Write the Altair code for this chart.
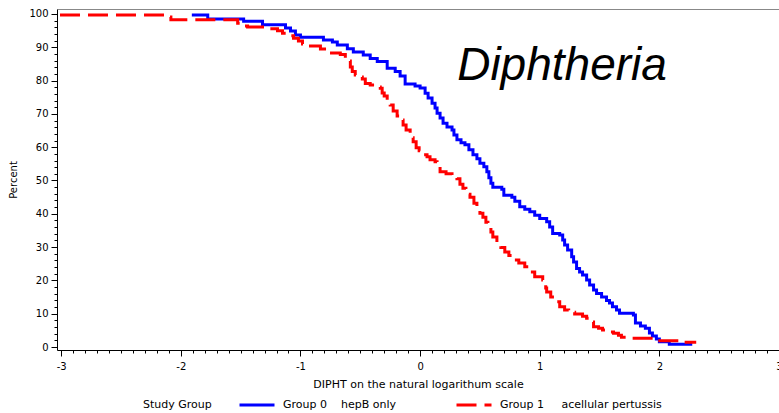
import altair as alt
import pandas as pd

G0 = "Group 0\u00a0\u00a0\u00a0\u00a0hepB only"
G1 = "Group 1\u00a0\u00a0\u00a0\u00a0\u00a0acellular pertussis"

# Group 0 (hepB only): x where the curve steps, percent after the step
blue_x = [-1.908, -1.775, -1.475, -1.317, -1.125, -1.083, -1.042, -1.0, -0.808, -0.733,
          -0.692, -0.608, -0.558, -0.475, -0.417, -0.358, -0.275, -0.208, -0.167, -0.125,
          -0.042, 0.0, 0.042, 0.067, 0.1, 0.125, 0.142, 0.167, 0.192, 0.225,
          0.267, 0.283, 0.308, 0.342, 0.375, 0.408, 0.442, 0.475, 0.5, 0.533,
          0.558, 0.575, 0.592, 0.608, 0.683, 0.7, 0.767, 0.792, 0.833, 0.875,
          0.917, 0.958, 1.0, 1.058, 1.083, 1.108, 1.167, 1.192, 1.208, 1.233,
          1.267, 1.283, 1.308, 1.333, 1.358, 1.392, 1.417, 1.45, 1.475, 1.517,
          1.558, 1.583, 1.608, 1.642, 1.667, 1.783, 1.8, 1.842, 1.883, 1.917,
          1.942, 1.975, 2.0, 2.083, 2.275]
blue_y = [99.7, 98.5, 97.8, 96.8, 95.8, 94.9, 93.7, 93.0, 92.2, 91.6,
          90.7, 89.6, 88.6, 87.7, 86.6, 85.7, 83.7, 82.7, 81.4, 79.0,
          78.4, 77.8, 76.2, 74.8, 73.2, 71.8, 70.2, 68.8, 67.2, 66.1,
          65.2, 63.7, 62.2, 61.3, 60.7, 59.2, 57.7, 56.5, 55.2, 54.1,
          52.6, 50.8, 49.2, 48.0, 47.4, 45.6, 45.0, 43.8, 42.1, 41.4,
          40.6, 39.6, 38.6, 37.6, 36.0, 34.1, 33.6, 32.1, 30.6, 29.1,
          27.1, 25.5, 23.6, 22.5, 21.6, 20.1, 18.6, 17.1, 16.1, 15.0,
          14.0, 13.2, 12.1, 11.1, 10.1, 9.6, 7.2, 6.3, 5.6, 4.2,
          3.3, 2.4, 1.6, 0.8, 0.8]

# Group 1 (acellular pertussis)
red_x = [-3.01, -2.108, -2.083, -1.525, -1.483, -1.442, -1.283, -1.192, -1.15, -1.108,
         -1.058, -1.017, -0.983, -0.933, -0.833, -0.775, -0.667, -0.625, -0.608, -0.583,
         -0.567, -0.542, -0.525, -0.483, -0.458, -0.417, -0.358, -0.333, -0.317, -0.3,
         -0.275, -0.25, -0.225, -0.192, -0.167, -0.142, -0.117, -0.083, -0.058, -0.033,
         -0.008, 0.025, 0.058, 0.083, 0.125, 0.142, 0.167, 0.217, 0.267, 0.308,
         0.333, 0.358, 0.383, 0.417, 0.45, 0.475, 0.5, 0.525, 0.55, 0.567,
         0.592, 0.608, 0.642, 0.675, 0.708, 0.742, 0.775, 0.825, 0.875, 0.917,
         0.958, 1.025, 1.05, 1.058, 1.092, 1.125, 1.167, 1.208, 1.242, 1.292,
         1.358, 1.392, 1.417, 1.45, 1.492, 1.525, 1.567, 1.617, 1.658, 1.683,
         1.725, 1.975, 2.183, 2.308]
red_y = [99.7, 99.1, 98.3, 97.2, 96.4, 96.1, 95.6, 95.0, 94.2, 93.5,
         92.7, 91.9, 91.0, 90.4, 89.5, 88.3, 87.8, 86.7, 85.9, 84.1,
         82.7, 81.7, 81.1, 80.5, 79.1, 78.7, 78.1, 77.7, 76.3, 75.4,
         73.7, 72.7, 70.9, 69.4, 68.2, 66.7, 65.2, 62.8, 61.6, 59.8,
         58.9, 57.7, 57.1, 56.2, 55.6, 54.1, 52.6, 52.0, 51.1, 50.5,
         48.9, 47.7, 45.9, 45.0, 43.2, 41.7, 40.2, 39.0, 37.5, 36.0,
         34.5, 33.0, 31.5, 29.9, 28.5, 27.5, 26.1, 25.2, 24.1, 22.5,
         21.1, 20.1, 17.7, 16.5, 15.0, 13.6, 12.1, 11.1, 10.4, 9.9,
         9.2, 8.6, 7.5, 6.1, 5.6, 5.1, 4.5, 4.1, 3.5, 2.9,
         2.6, 1.9, 1.4, 1.4]

x_ticks = [round(-3 + 0.1 * i, 1) for i in range(61)]
y_ticks = list(range(0, 101, 2))

ann_x = [0.31]
ann_y = [80.2]
ann_text = ["Diphtheria"]

df = pd.concat([
    pd.DataFrame({"x": blue_x, "y": blue_y, "group": G0}),
    pd.DataFrame({"x": red_x, "y": red_y, "group": G1}),
], ignore_index=True)
ann = pd.DataFrame({"x": ann_x, "y": ann_y, "t": ann_text})

FONT = "DejaVu Sans"
xs = alt.Scale(domain=[-3.035, 3.0], nice=False, zero=False)
ys = alt.Scale(domain=[-0.9, 101.5], nice=False, zero=False)

is_int_x = "abs(datum.value - round(datum.value)) < 0.001"
xaxis = alt.Axis(
    values=x_ticks, orient="bottom", grid=False,
    tickSize={"condition": {"test": is_int_x, "value": 6}, "value": 3},
    labelExpr=f"{is_int_x} ? '' + round(datum.value) : ''",
    labelOverlap=False, labelFlush=False,
    labelFont=FONT, labelFontSize=10, labelColor="black", labelPadding=5,
    domainColor="black", tickColor="black", domainWidth=1, tickWidth=1,
    title="DIPHT on the natural logarithum scale", titleFont=FONT, titleFontSize=11,
    titleFontWeight="normal", titleColor="black", titlePadding=7,
)
is_ten = "datum.value % 10 === 0"
yaxis = alt.Axis(
    values=y_ticks, orient="left", grid=False,
    tickSize={"condition": {"test": is_ten, "value": 6}, "value": 3},
    labelExpr=f"{is_ten} ? '' + datum.value : ''",
    labelOverlap=False, labelFlush=False,
    labelFont=FONT, labelFontSize=10, labelColor="black", labelPadding=3,
    domainColor="black", tickColor="black", domainWidth=1, tickWidth=1,
    title="Percent", titleFont=FONT, titleFontSize=10,
    titleFontWeight="normal", titleColor="black", titlePadding=10,
)

legend = alt.Legend(
    orient="none", legendX=86, legendY=377, direction="horizontal",
    title="Study Group", titleOrient="left",
    titleBaseline="line-top", titleLineHeight=12,
    titleFont=FONT, titleFontSize=11,
    titleFontWeight="normal", titleColor="black", titlePadding=26,
    labelFont=FONT, labelFontSize=11, labelColor="black", labelOffset=7, labelLimit=400,
    symbolType="stroke", symbolSize=1225, symbolStrokeWidth=3,
    columnPadding=53, padding=0,
)

lines = alt.Chart(df).mark_line(interpolate="step-after", strokeWidth=3).encode(
    x=alt.X("x:Q", scale=xs, axis=xaxis),
    y=alt.Y("y:Q", scale=ys, axis=yaxis),
    color=alt.Color("group:N", scale=alt.Scale(domain=[G0, G1], range=["#0000ff", "#ff0000"]), legend=legend),
    strokeDash=alt.StrokeDash("group:N", scale=alt.Scale(domain=[G0, G1], range=[[1, 0], [20, 8]]), legend=legend),
)

top = alt.Chart(df).mark_line(opacity=0).encode(
    x=alt.X("x:Q", scale=xs, axis=alt.Axis(orient="top", labels=False, ticks=False, grid=False,
                                           domainColor="#888888", domainWidth=1, title=None)),
    y=alt.Y("y:Q", scale=ys, axis=None),
)

label = alt.Chart(ann).mark_text(
    align="left", baseline="alphabetic", fontSize=46, fontStyle="italic",
    font="Liberation Sans", color="black",
).encode(
    x=alt.X("x:Q", scale=xs, axis=None),
    y=alt.Y("y:Q", scale=ys, axis=None),
    text="t:N",
)

chart = alt.layer(lines, top, label).resolve_axis(x="independent", y="independent").properties(
    width=722, height=341,
    autosize=alt.AutoSizeParams(type="none"),
    padding={"left": 57, "top": 9, "right": 0, "bottom": 63},
    background="white",
).configure_view(stroke=None)

chart.save("out.html", embed_options={"renderer": "svg", "actions": False})
